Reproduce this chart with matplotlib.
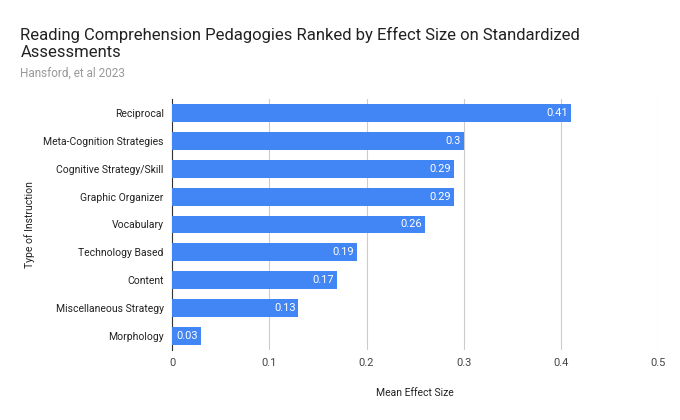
import matplotlib
matplotlib.use("Agg")
import matplotlib.pyplot as plt

categories = ["Reciprocal", "Meta-Cognition Strategies", "Cognitive Strategy/Skill",
              "Graphic Organizer", "Vocabulary", "Technology Based", "Content",
              "Miscellaneous Strategy", "Morphology"]
values = [0.41, 0.3, 0.29, 0.29, 0.26, 0.19, 0.17, 0.13, 0.03]
xticks = [0, 0.1, 0.2, 0.3, 0.4, 0.5]

plt.rcParams['font.family'] = ['Roboto', 'DejaVu Sans']
fig = plt.figure(figsize=(6.8, 4.2), dpi=100)
ax = fig.add_axes([0.253, 0.167, 0.715, 0.597])
y = list(range(len(categories)))
ax.barh(y, values, height=0.64, color="#4285F4", zorder=3)
for yi, v in zip(y, values):
    ax.text(v - 0.003, yi, str(v), color="white", ha="right", va="center", fontsize=8, zorder=4)
ax.set_yticks(y)
ax.set_yticklabels(categories, fontsize=7.5, color="#222222")
ax.set_ylim(len(categories) - 0.5, -0.5)
ax.set_xlim(0, 0.5)
ax.set_xticks(xticks)
ax.set_xticklabels([str(t) for t in xticks], fontsize=8, color="#444444")
ax.grid(axis="x", color="#cccccc", linewidth=0.8, zorder=0)
for s in ["top", "right", "bottom"]:
    ax.spines[s].set_visible(False)
ax.spines["left"].set_color("#333333")
ax.tick_params(length=0, pad=6)
ax.set_xlabel("Mean Effect Size", fontsize=7.5, color="#222222", labelpad=14)
ax.set_ylabel("Type of Instruction", fontsize=7.5, color="#222222", labelpad=6)
fig.text(0.03, 0.858, "Reading Comprehension Pedagogies Ranked by Effect Size on Standardized\nAssessments",
         fontsize=12, color="#222222", va="bottom", linespacing=1.15)
fig.text(0.03, 0.81, "Hansford, et al 2023", fontsize=8.5, color="#999999", va="bottom")
fig.savefig("out.png", dpi=100, facecolor="white")
